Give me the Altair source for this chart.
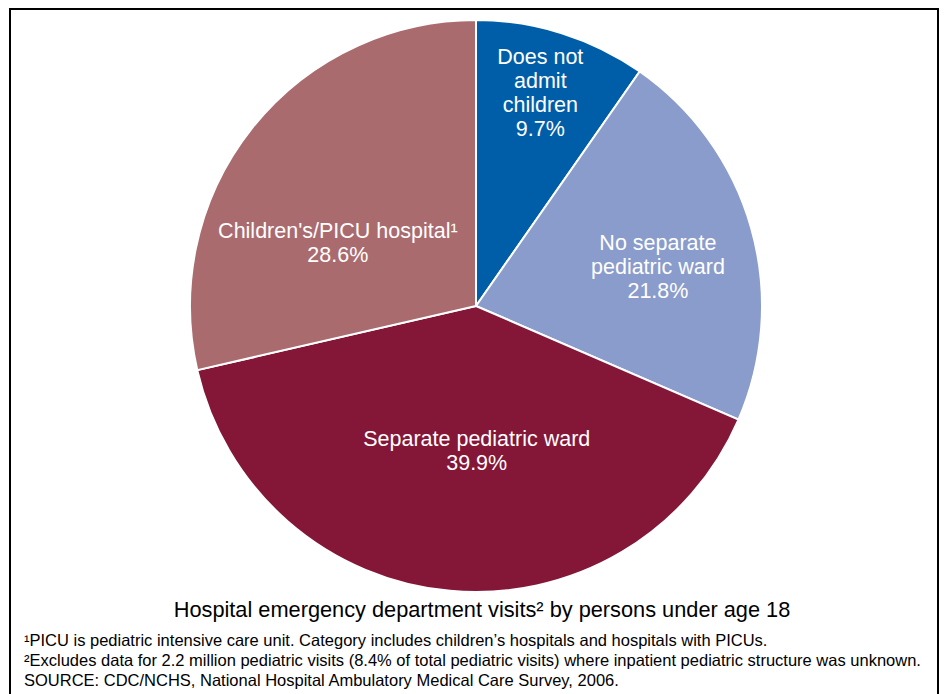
import altair as alt
import pandas as pd

# ---- data ----
categories = [
    "Does not admit children",
    "No separate pediatric ward",
    "Separate pediatric ward",
    "Children's/PICU hospital",
]
label_lines = [
    ["Does not", "admit", "children"],
    ["No separate", "pediatric ward"],
    ["Separate pediatric ward"],
    ["Children's/PICU hospital¹"],
]
percents = [9.7, 21.8, 39.9, 28.6]
colors = ["#005EA8", "#8A9CCB", "#841638", "#AA6B6F"]

title_text = "Hospital emergency department visits² by persons under age 18"
footnotes = [
    "¹PICU is pediatric intensive care unit. Category includes children’s hospitals and hospitals with PICUs.",
    "²Excludes data for 2.2 million pediatric visits (8.4% of total pediatric visits) where inpatient pediatric structure was unknown.",
    "SOURCE: CDC/NCHS, National Hospital Ambulatory Medical Care Survey, 2006.",
]

df = pd.DataFrame({
    "category": categories,
    "pct": percents,
    "order": list(range(len(categories))),
    "label": ["\n".join(lines + [f"{p:.1f}%"]) for lines, p in zip(label_lines, percents)],
})

FONT = "Liberation Sans"
R = 286
LH = 24
theta_scale = alt.Scale(domain=[0, 100])
color_scale = alt.Scale(domain=categories, range=colors)

pie = alt.Chart(df).mark_arc(outerRadius=R, stroke="white", strokeWidth=2).encode(
    theta=alt.Theta("pct:Q", stack=True, scale=theta_scale),
    order=alt.Order("order:Q"),
    color=alt.Color("category:N", scale=color_scale, legend=None),
)

# label placement (radius from centre and small nudges) per slice
label_style = {
    categories[0]: dict(radius=221, dx=-2, dy=-1),
    categories[1]: dict(radius=186, dx=3, dy=13),
    categories[2]: dict(radius=146, dx=14, dy=1),
    categories[3]: dict(radius=151, dx=-20, dy=32),
}

labels = []
for cat, lines in zip(categories, label_lines):
    st = dict(label_style[cat])
    n_lines = len(lines) + 1
    st["dy"] = st["dy"] - (n_lines - 1) * LH / 2  # centre the whole block
    labels.append(
        alt.Chart(df)
        .transform_window(cum="sum(pct)", sort=[alt.SortField("order")], frame=[None, 0])
        .transform_calculate(mid="datum.cum - datum.pct / 2")
        .transform_filter(alt.datum.category == cat)
        .mark_text(
            font=FONT, fontSize=21.5, lineBreak="\n", lineHeight=LH,
            align="center", baseline="middle", color="white", **st,
        )
        .encode(
            theta=alt.Theta("mid:Q", stack=False, scale=theta_scale),
            text="label:N",
        )
    )

one = pd.DataFrame({"k": [0]})

border = alt.Chart(one).mark_rect(fill=None, stroke="black", strokeWidth=2).encode(
    x=alt.value(-180), x2=alt.value(748), y=alt.value(-11), y2=alt.value(720)
)

title = alt.Chart(pd.DataFrame({"t": [title_text]})).mark_text(
    font=FONT, fontSize=21.75, align="center", baseline="middle", color="black"
).encode(x=alt.value(292), y=alt.value(590), text="t:N")

foot = alt.Chart(pd.DataFrame({"t": ["\n".join(footnotes)]})).mark_text(
    font=FONT, fontSize=16.5, align="left", baseline="middle", lineBreak="\n",
    lineHeight=20, color="black"
).encode(x=alt.value(-166), y=alt.value(621), text="t:N")

chart = alt.layer(pie, *labels, title, foot, border).properties(
    width=572, height=572,
    autosize=alt.AutoSizeParams(type="none"),
    padding={"left": 182, "top": 12, "right": 177, "bottom": 102},
).configure_view(stroke=None).resolve_scale(theta="shared")

chart.save("out.html", embed_options={"renderer": "svg", "actions": False})
